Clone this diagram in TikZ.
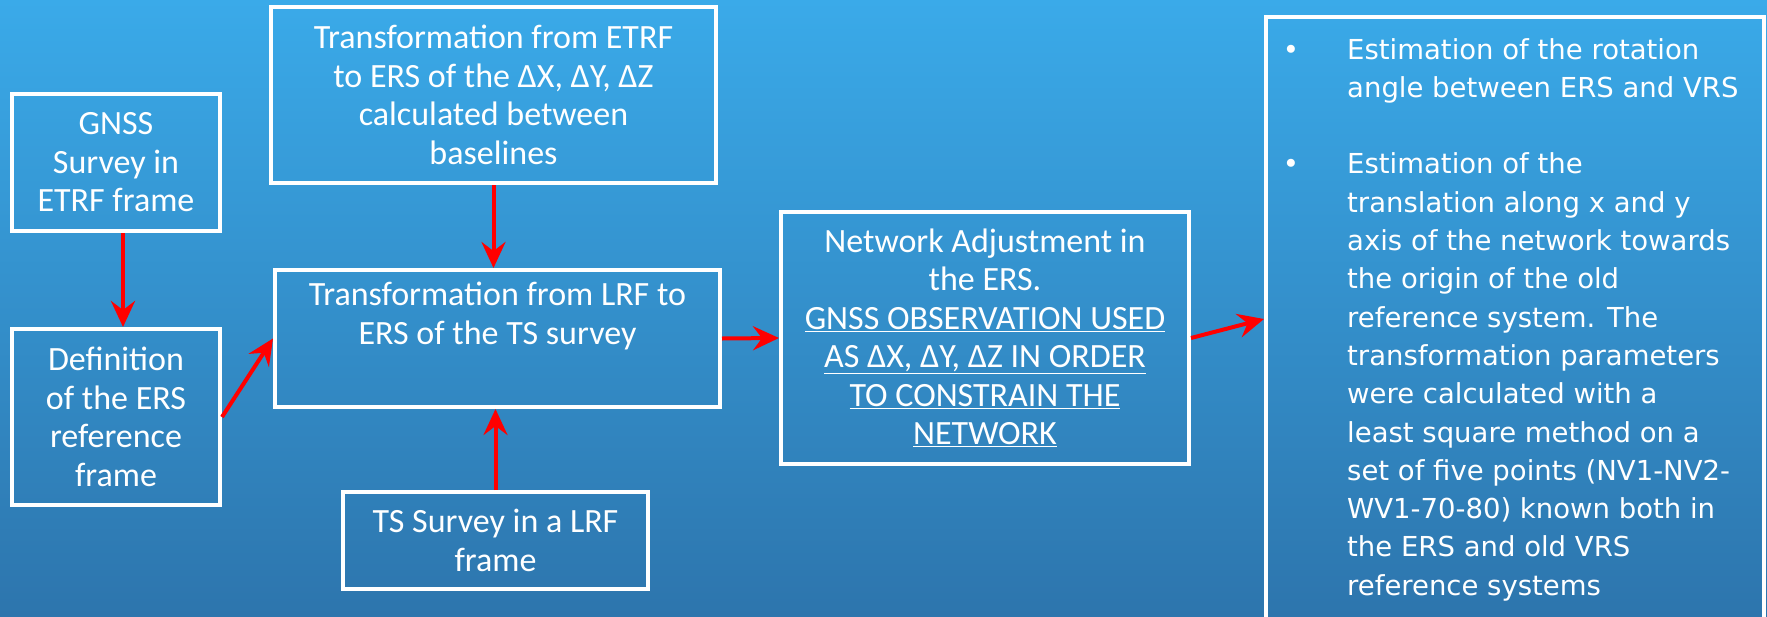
\documentclass[tikz,border=0pt]{standalone}
\usepackage{fontspec}
\setmainfont{Carlito}
\newfontfamily\estfont{DejaVu Sans}
\usetikzlibrary{arrows.meta}

\definecolor{bgtop}{RGB}{58,170,233}
\definecolor{bgbottom}{RGB}{45,117,173}
\definecolor{arrowred}{RGB}{255,0,0}

\begin{document}
\begin{tikzpicture}[x=1pt, y=-1pt,
        box/.style={draw=white, line width=4pt, text=white, inner sep=0pt,
            align=center, font=\fontsize{34}{38.5}\selectfont},
        link/.style={arrowred, line width=4pt,
            -{Stealth[length=26pt, width=24pt, inset=9pt]}},
        esttext/.style={text=white, inner sep=0pt, anchor=base west,
            font=\estfont\fontsize{27.5}{38.3}\selectfont},
        bulletmark/.style={text=white, inner sep=0pt, anchor=base,
            font=\estfont\fontsize{27.5}{38.3}\selectfont}]
    % background
    \shade
        [top color=bgtop, bottom color=bgbottom] (0,0) rectangle (1767,616);
    \useasboundingbox (0,0) rectangle (1767,616);

    % left column
    \node
        [box, minimum width=208pt, minimum height=137pt] (gnss) at (116,162.5)
        {GNSS\\Survey in\\ETRF frame};
    \node
        [box, minimum width=208pt, minimum height=176pt] (def) at (116,417)
        {Definition\\of the ERS\\reference\\frame};

    % middle column
    \node
        [box, minimum width=445pt, minimum height=176pt] (etrf) at (493.5,95)
        {Transformation from ETRF\\to ERS of the ΔX, ΔY, ΔZ\\calculated between\\baselines};
    \node
        [box, minimum width=445pt, minimum height=137pt] (lrf) at (497.5,338.5)
        {Transformation from LRF to\\ERS of the TS survey\\\strut};
    \node
        [box, minimum width=305pt, minimum height=97pt] (ts) at (495.5,540.5)
        {TS Survey in a LRF\\frame};

    % adjustment
    \node
        [box, minimum width=408pt, minimum height=252pt] (net) at (985,338)
        {Network Adjustment in\\the ERS.\\\underline{GNSS OBSERVATION USED}\\
         \underline{AS ΔX, ΔY, ΔZ IN ORDER}\\\underline{TO CONSTRAIN THE}\\
         \underline{NETWORK}};

    % estimation box, runs off the bottom
    \begin{scope}
        \clip (0,0) rectangle (1767,616);
        \node
            [box, minimum width=498pt, minimum height=626pt] (est) at (1515,330) {};
    \end{scope}
    \node[bulletmark] (b1) at (1291,59) {•};
    \node[esttext] (e1) at (1347,59)
        {\parbox[t]{410pt}{Estimation of the rotation\\angle between ERS and VRS}};
    \node[bulletmark] (b2) at (1291,173.9) {•};
    \node[esttext] (e2) at (1347,173.9)
        {\parbox[t]{410pt}{Estimation of the\\translation along x and y\\axis of the network towards\\the origin of the old\\reference system. The\\transformation parameters\\were calculated with a\\least square method on a\\set of five points (NV1-NV2-\\WV1-70-80) known both in\\the ERS and old VRS\\reference systems}};

    % arrows
    \draw
        [link] ([xshift=7pt]gnss.south) -- ([xshift=7pt]def.north);
    \draw
        [link] (etrf.south) -- (etrf.south |- lrf.north);
    \draw
        [link] (ts.north) -- (ts.north |- lrf.south);
    \draw
        [link] (def.east) -- (lrf.west);
    \draw
        [link] (lrf.east) -- (net.west);
    \draw
        [link] (net.east) -- ([yshift=11pt]est.west);
\end{tikzpicture}
\end{document}
